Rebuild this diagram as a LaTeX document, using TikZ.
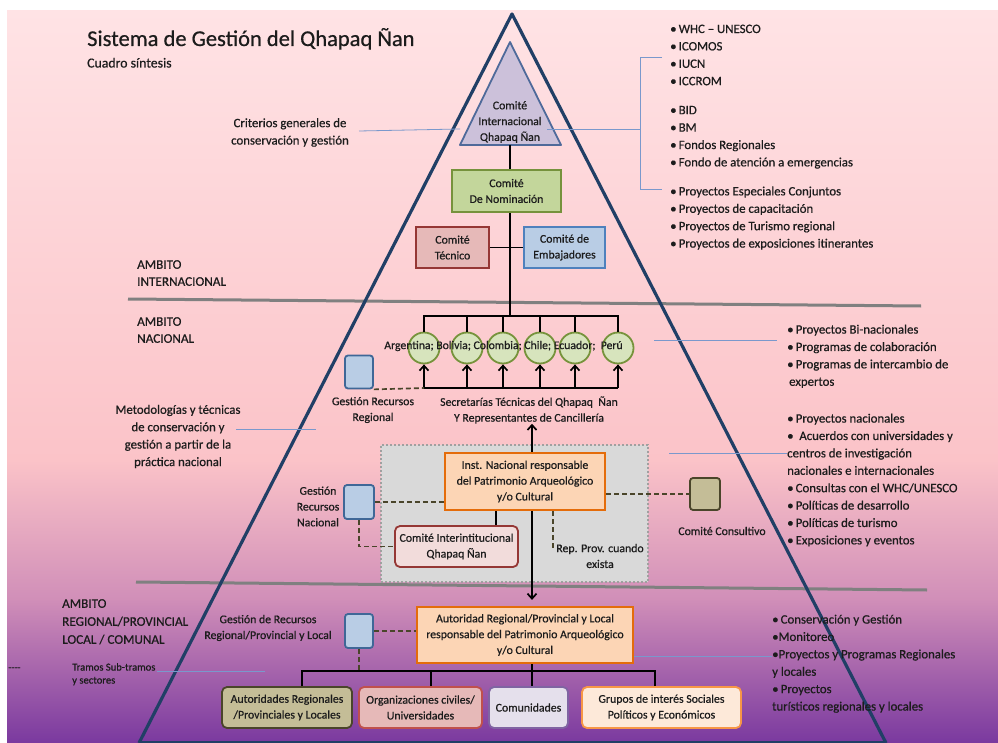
\documentclass[tikz,border=0pt]{standalone}
\usepackage{fontspec}
\setmainfont{Carlito}[FakeBold=0.6]
\usetikzlibrary{arrows.meta,positioning}

\definecolor{ink}{HTML}{1C1C1C}
\definecolor{bgA}{HTML}{FFE3E5}
\definecolor{bgB}{HTML}{FBC3C8}
\definecolor{bgC}{HTML}{D08EB8}
\definecolor{bgD}{HTML}{7A399F}
\definecolor{pyr}{HTML}{213F66}
\definecolor{ambgray}{HTML}{808080}
\definecolor{noteblue}{HTML}{7A98CC}
\definecolor{cifill}{HTML}{CCC1DA}
\definecolor{cidraw}{HTML}{4F6A9A}
\definecolor{nomfill}{HTML}{C3D69B}
\definecolor{nomdraw}{HTML}{76923C}
\definecolor{redfill}{HTML}{E6B9B8}
\definecolor{reddraw}{HTML}{953735}
\definecolor{bluefill}{HTML}{B9CDE5}
\definecolor{bluedraw}{HTML}{4F81BD}
\definecolor{sqdraw}{HTML}{3F6797}
\definecolor{cfill}{HTML}{D7E4BD}
\definecolor{cdraw}{HTML}{77933C}
\definecolor{panfill}{HTML}{D9D9D9}
\definecolor{pandraw}{HTML}{A0A0A0}
\definecolor{orfill}{HTML}{FCD5B5}
\definecolor{ordraw}{HTML}{E46C0A}
\definecolor{pkfill}{HTML}{F2DCDB}
\definecolor{olfill}{HTML}{C4BD97}
\definecolor{oldraw}{HTML}{4A452A}
\definecolor{pkdraw}{HTML}{C0504D}
\definecolor{lvfill}{HTML}{E5E0EC}
\definecolor{lvdraw}{HTML}{8064A2}
\definecolor{gifill}{HTML}{FDE9D9}
\definecolor{gidraw}{HTML}{F79646}

\newcommand\boxfont{\fontsize{11.8}{15.8}\selectfont}
\newcommand\listfont{\fontsize{12.8}{17.4}\selectfont}
\newcommand\ambfont{\fontsize{13.2}{17}\selectfont}

\begin{document}
\begin{tikzpicture}[x=1pt,y=-1pt,
    txt/.style={align=center,font=\boxfont,text=ink,inner sep=0pt},
    main box/.style={draw,line width=1.8pt,align=center,font=\boxfont,text=ink,inner sep=1pt},
    round box/.style={main box,rounded corners=5pt},
    sq node/.style={draw=sqdraw,fill=bluefill,line width=1.8pt,rounded corners=3pt,minimum width=28,minimum height=33},
    country/.style={circle,draw=cdraw,fill=cfill,line width=1.8pt,minimum size=31,inner sep=0pt},
    conn/.style={line width=1.7pt,draw=black},
    dash link/.style={line width=1.7pt,draw=oldraw,dash pattern=on 5pt off 3pt},
    note line/.style={line width=0.8pt,draw=noteblue},
    rlist/.style={align=left,font=\listfont,text=ink,inner sep=0pt,anchor=north west},
    amb/.style={align=left,font=\ambfont,text=ink,inner sep=0pt,anchor=north west},
    arr/.style={-{Straight Barb[length=5pt,width=9pt]}}]

  % fondo
  \fill[white] (0,0) rectangle (998,743);
  \shade[top color=bgA,bottom color=bgB] (7,11) rectangle (998,461);
  \shade[top color=bgB,bottom color=bgC] (7,460) rectangle (998,601);
  \shade[top color=bgC,bottom color=bgD] (7,600) rectangle (998,743);
  \useasboundingbox (0,0) rectangle (998,743);

  \draw[ambgray,line width=3pt] (128,299) -- (921,306);
  \draw[ambgray,line width=3pt] (136,582) -- (927,590);
  \draw[pyr,line width=3.2pt,line join=round] (139,743) -- (512,14) -- (886,743);
  \draw[pyr,line width=3pt] (139,742) -- (886,742);

  % titulo
  \node[anchor=base west,inner sep=0pt,text=ink,font=\fontsize{22.5}{27}\selectfont] (tit) at (87,46) {Sistema de Gestión del Qhapaq Ñan};
  \node[anchor=base west,inner sep=0pt,text=ink,font=\fontsize{13.8}{15}\selectfont] (sub) at (87,67.5) {Cuadro síntesis};

  % ambitos
  \node[amb] (ai) at (137,260) {AMBITO\\INTERNACIONAL};
  \node[amb] (an) at (137,317) {AMBITO\\NACIONAL};
  \node[amb,font=\fontsize{13.2}{18}\selectfont] (ar) at (62,599) {AMBITO\\REGIONAL/PROVINCIAL\\LOCAL / COMUNAL};

  % internacional
  \filldraw[fill=cifill,draw=cidraw,line width=1.8pt,line join=round] (510,42) -- (561,145) -- (460,145) -- cycle;
  \node[txt] (ci) at (510,122) {Comité\\Internacional\\Qhapaq Ñan};
  \coordinate (cib) at (510,145);
  \node[main box,draw=nomdraw,fill=nomfill,minimum width=109,minimum height=42] (nom) at (506.5,191) {Comité\\De Nominación};
  \node[main box,draw=reddraw,fill=redfill,minimum width=73,minimum height=41] (tec) at (452.5,247.5) {Comité\\Técnico};
  \node[main box,draw=bluedraw,fill=bluefill,minimum width=81,minimum height=41] (emb) at (564.5,247.5) {Comité de\\Embajadores};
  \coordinate (top) at (510,316);
  \coordinate (bot) at (510,388);
  \draw[conn] (cib) -- (nom.north -| cib);
  \draw[conn] (nom.south -| cib) -- (top);
  \draw[conn] (tec.east) -- (emb.west);

  \node[txt,font=\listfont] (crit) at (290,132.5) {Criterios generales de\\conservación y gestión};
  \coordinate (cr1) at (359,131);
  \coordinate (cr2) at (460,129);
  \draw[note line] (cr1) -- (cr2);
  \coordinate (or1) at (547,129);
  \coordinate (or2) at (640,129);
  \draw[note line] (or1) -- (or2);
  \draw[note line] (662,57) -- (640,57) -- (640,189) -- (662,189);
  \node[rlist] (org) at (670,24.5) {•\,WHC – UNESCO\\•\,ICOMOS\\•\,IUCN\\•\,ICCROM\\[11.6pt]•\,BID\\•\,BM\\•\,Fondos Regionales\\•\,Fondo de atención a emergencias\\[11.6pt]•\,Proyectos Especiales Conjuntos\\•\,Proyectos de capacitación\\•\,Proyectos de Turismo regional\\•\,Proyectos de exposiciones itinerantes};

  % nacional
  \foreach \x [count=\i] in {424,467,503,540,575,618}
    \node[country] (c\i) at (\x,348) {};
  \draw[conn] (c1.north) |- (top) -| (c6.north);
  \foreach \i in {2,...,5}
    \draw[conn] (c\i.north) -- (c\i.north |- top);
  \draw[conn] (c1 |- bot) -- (c6 |- bot);
  \foreach \i in {1,...,6}
    \draw[conn,arr] (c\i |- bot) -- (c\i.south);
  \node[txt,font=\fontsize{11.7}{14}\selectfont] (paises) at (503.5,346) {Argentina; Bolivia; Colombia; Chile; Ecuador;\ \ Perú};

  \node[sq node] (sqr) at (359,372) {};
  \draw[dash link] (sqr.south east) -- (c1 |- bot);
  \node[txt] (sqrl) at (373,410) {Gestión Recursos\\Regional};
  \node[txt] (sec) at (529,410) {Secretarías Técnicas del Qhapaq\ \ Ñan\\Y Representantes de Cancillería};

  \node[txt,font=\listfont] (met) at (178,436.5) {Metodologías y técnicas\\de conservación y\\gestión a partir de la\\práctica nacional};
  \coordinate (me1) at (236,429);
  \coordinate (me2) at (316,429);
  \draw[note line] (me1) -- (me2);

  \node[draw=pandraw,fill=panfill,line width=2pt,dash pattern=on 2pt off 2pt,minimum width=267,minimum height=137] (pan) at (514.5,513.5) {};
  \node[main box,draw=ordraw,fill=orfill,line width=2.2pt,minimum width=160,minimum height=57] (inst) at (525,481.5) {Inst. Nacional responsable\\del Patrimonio Arqueológico\\y/o Cultural};
  \node[sq node,minimum width=30,minimum height=34] (sqn) at (359,502) {};
  \node[txt] (sqnl) at (318,506.5) {Gestión\\Recursos\\Nacional};
  \node[round box,draw=reddraw,fill=pkfill,minimum width=123,minimum height=41] (cint) at (456.5,546.5) {Comité Interintitucional\\Qhapaq Ñan};
  \node[txt] (rep) at (600,556) {Rep. Prov. cuando\\exista};
  \node[sq node,draw=oldraw,fill=olfill,minimum width=30,minimum height=32] (cons) at (705,494) {};
  \node[txt] (consl) at (722,531) {Comité Consultivo};

  \draw[conn,arr] ([xshift=7pt]inst.north) -- ([xshift=7pt]inst.north |- sec.south);
  \draw[conn] ([xshift=-29pt]inst.south) -- ([xshift=-29pt]inst.south |- cint.north);
  \draw[dash link] (sqn.east) -- (sqn.east -| inst.west);
  \draw[dash link] (sqn.south) |- (cint.west);
  \draw[dash link] (inst.east |- cons) -- (cons.west);
  \draw[dash link] ([xshift=28pt]inst.south) -- ++(0,37);

  \coordinate (n1) at (654,340);
  \coordinate (n2) at (669,453);
  \node[rlist] (rn1) at (787,324.5) {•\,Proyectos Bi-nacionales\\•\,Programas de colaboración\\•\,Programas de intercambio de\\\hspace{2pt}expertos};
  \node[rlist] (rn2) at (787,413.5) {•\,Proyectos nacionales\\•\ \ Acuerdos con universidades y\\centros de investigación\\nacionales e internacionales\\•\,Consultas con el WHC/UNESCO\\•\,Políticas de desarrollo\\•\,Políticas de turismo\\•\,Exposiciones y eventos};
  \draw[note line,shorten >=10pt] (n1) -- (n1 -| rn1.west);
  \draw[note line] (n2) -- (n2 -| rn2.west);

  % regional
  \node[main box,draw=ordraw,fill=orfill,line width=2.2pt,minimum width=216,minimum height=56] (aut) at (525,635) {Autoridad Regional/Provincial y Local\\responsable del Patrimonio Arqueológico\\y/o Cultural};
  \draw[conn,arr,shorten >=6pt] ([xshift=7pt]inst.south) -- ([xshift=7pt]inst.south |- aut.north);
  \node[sq node,minimum height=34] (sqg) at (359,631) {};
  \node[txt] (sqgl) at (268,628) {Gestión de Recursos\\Regional/Provincial y Local};

  \node[round box,draw=oldraw,fill=olfill,minimum width=130,minimum height=41] (bA) at (287,707.5) {Autoridades Regionales\\/Provinciales y Locales};
  \node[round box,draw=pkdraw,fill=redfill,minimum width=123,minimum height=41] (bB) at (420.5,707.5) {Organizaciones civiles/\\Universidades};
  \node[round box,draw=lvdraw,fill=lvfill,minimum width=79,minimum height=41] (bC) at (528.5,707.5) {Comunidades};
  \node[round box,draw=gidraw,fill=gifill,minimum width=159,minimum height=41] (bD) at (661.5,707.5) {Grupos de interés Sociales\\Políticos y Económicos};

  \coordinate (rj) at (532,671);
  \draw[conn] (aut.south -| rj) -- (rj) -- (bC.north -| rj);
  \draw[conn] (bA.north -| 302,0) |- (rj);
  \draw[conn] (bD.north -| 655,0) |- (rj);
  \draw[conn] (bB.north -| 431,0) -- (431,671);
  \draw[dash link] (sqg.east) -- (sqg.east -| aut.west);
  \draw[dash link] (sqg.south) -- (sqg.south |- rj);

  \node[rlist] (rr) at (772,614.5) {•\,Conservación y Gestión\\•Monitoreo\\•Proyectos y Programas Regionales\\y locales\\•\,Proyectos\\turísticos regionales y locales};
  \draw[note line] ([yshift=-21pt]aut.east) -- ([yshift=-21pt]aut.east -| rr.west);

  \node[anchor=west,inner sep=0pt,text=ink,font=\fontsize{10}{13}\selectfont] (das) at (8,669) {{-}{-}{-}{-}};
  \node[amb,font=\fontsize{10.6}{13}\selectfont] (tra) at (72,663) {Tramos Sub-tramos\\y sectores};
  \coordinate (tr1) at (157,671);
  \coordinate (tr2) at (265,671);
  \draw[note line] (tr1) -- (tr2);
\end{tikzpicture}
\end{document}
